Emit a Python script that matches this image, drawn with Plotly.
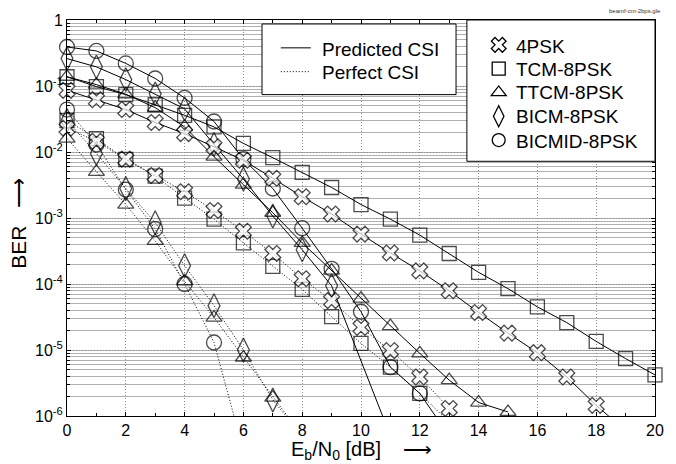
import plotly.graph_objects as go

# ---------------- data ----------------
# Predicted CSI (solid lines)
pred_4psk_x = list(range(0, 20))
pred_4psk_y = [0.086, 0.062, 0.044, 0.028, 0.019, 0.012, 0.0075, 0.0040, 0.0021, 0.00115,
               5.7e-4, 2.95e-4, 1.58e-4, 7.9e-5, 3.7e-5, 1.8e-5, 9.1e-6, 3.9e-6, 1.45e-6, 6e-7]
pred_tcm_x = list(range(0, 21))
pred_tcm_y = [0.138, 0.098, 0.074, 0.052, 0.036, 0.024, 0.0135, 0.0082, 0.0049, 0.0029, 0.0016,
              9.6e-4, 5.5e-4, 2.9e-4, 1.5e-4, 8.5e-5, 4.5e-5, 2.6e-5, 1.35e-5, 7.4e-6, 4.2e-6]
pred_ttcm_x = list(range(0, 16))
pred_ttcm_y = [0.138, 0.105, 0.075, 0.047, 0.024, 0.0085, 0.0032, 0.0012, 4.2e-4, 1.6e-4,
               6e-5, 2.3e-5, 8.9e-6, 3.5e-6, 1.6e-6, 1.15e-6]
pred_bicm_x = [0, 1, 2, 3, 4, 5, 6, 7, 8, 9, 11]
pred_bicm_y = [0.26, 0.195, 0.125, 0.076, 0.045, 0.013, 0.0039, 0.00107, 3.3e-4, 9.4e-5, 5e-7]
pred_bicmid_x = list(range(0, 14))
pred_bicmid_y = [0.39, 0.34, 0.22, 0.13, 0.066, 0.029, 0.0078, 0.0028, 7e-4, 1.7e-4,
                 3.8e-5, 5.5e-6, 2.2e-6, 5e-7]

# Perfect CSI (dotted lines)
perf_4psk_x = list(range(0, 15))
perf_4psk_y = [0.023, 0.0145, 0.0078, 0.0044, 0.0025, 0.0013, 6.3e-4, 2.9e-4, 1.2e-4, 5.6e-5,
               2.2e-5, 9.8e-6, 3.9e-6, 1.3e-6, 3.5e-7]
perf_tcm_x = list(range(0, 14))
perf_tcm_y = [0.030, 0.016, 0.0077, 0.0043, 0.0020, 9.6e-4, 4.2e-4, 1.85e-4, 8.3e-5, 3.2e-5,
              1.26e-5, 5.5e-6, 2.2e-6, 8e-7]
perf_ttcm_x = list(range(0, 9))
perf_ttcm_y = [0.016, 0.0050, 0.0016, 4.5e-4, 1.1e-4, 3.1e-5, 7.7e-6, 1.9e-6, 5e-7]
perf_bicm_x = list(range(0, 9))
perf_bicm_y = [0.030, 0.0095, 0.0028, 8.5e-4, 1.9e-4, 4.7e-5, 1.0e-5, 1.75e-6, 5e-7]
perf_bicmid_x = list(range(0, 7))
perf_bicmid_y = [0.044, 0.013, 0.0027, 6.8e-4, 1.0e-4, 1.3e-5, 3e-7]

scheme_names = ["4PSK", "TCM-8PSK", "TTCM-8PSK", "BICM-8PSK", "BICMID-8PSK"]
csi_names = ["Predicted CSI", "Perfect CSI"]

x_tickvals = list(range(0, 21, 2))
y_tickvals = [1e-6, 1e-5, 1e-4, 1e-3, 1e-2, 1e-1, 1]
y_ticktext = ["10<sup>-6</sup>", "10<sup>-5</sup>", "10<sup>-4</sup>", "10<sup>-3</sup>",
              "10<sup>-2</sup>", "10<sup>-1</sup>", "1"]

# ---------------- styling ----------------
FONT = "Liberation Sans, Arial, Helvetica, sans-serif"
W, H = 676, 464
L, R, T, B = 67, 12, 18, 48
PW, PH = W - L - R, H - T - B
YMIN = 1e-6
DOT = "1px,2px"

def px_x(p):
    return (p - L) / PW

def px_y(p):
    return (H - B - p) / PH

sym = {
    "4PSK": dict(symbol="x", size=14, color="white", line=dict(color="black", width=1.3)),
    "TCM-8PSK": dict(symbol="square-open", size=14, color="black", line=dict(width=1.3)),
    "TTCM-8PSK": dict(symbol="triangle-up-open", size=14, color="black", line=dict(width=1.3)),
    "BICM-8PSK": dict(symbol="diamond-tall-open", size=17, color="black", line=dict(width=1.3)),
    "BICMID-8PSK": dict(symbol="circle-open", size=15, color="black", line=dict(width=1.3)),
}

fig = go.Figure()

def add_curve(xs, ys, name, dash):
    m = dict(sym[name])
    m["size"] = [m["size"] if v >= YMIN else 0 for v in ys]
    fig.add_trace(go.Scatter(
        x=xs, y=ys, mode="lines+markers", showlegend=False, cliponaxis=False,
        line=dict(color="black", width=1, dash=dash), marker=m,
        hoverinfo="skip"))

series = [
    (pred_tcm_x, pred_tcm_y, "TCM-8PSK", "solid"),
    (pred_ttcm_x, pred_ttcm_y, "TTCM-8PSK", "solid"),
    (pred_bicm_x, pred_bicm_y, "BICM-8PSK", "solid"),
    (pred_bicmid_x, pred_bicmid_y, "BICMID-8PSK", "solid"),
    (perf_tcm_x, perf_tcm_y, "TCM-8PSK", DOT),
    (perf_ttcm_x, perf_ttcm_y, "TTCM-8PSK", DOT),
    (perf_bicm_x, perf_bicm_y, "BICM-8PSK", DOT),
    (perf_bicmid_x, perf_bicmid_y, "BICMID-8PSK", DOT),
    (perf_4psk_x, perf_4psk_y, "4PSK", DOT),
    (pred_4psk_x, pred_4psk_y, "4PSK", "solid"),
]
for xs, ys, nm, d in series:
    add_curve(xs, ys, nm, d)

# legend symbols (line styles) -- labels are drawn as annotations
for nm, d in zip(csi_names, ["solid", DOT]):
    fig.add_trace(go.Scatter(x=[None], y=[None], mode="lines", legend="legend",
                             name=" ", line=dict(color="black", width=1, dash=d)))
# legend symbols (markers)
for nm in scheme_names:
    m = dict(sym[nm])
    m["size"] = 13 if nm != "BICM-8PSK" else 15
    fig.add_trace(go.Scatter(x=[None], y=[None], mode="markers", legend="legend2",
                             name=" ", marker=m))

shapes = [
    dict(type="rect", xref="paper", yref="paper", x0=px_x(265), x1=px_x(462),
         y0=px_y(93), y1=px_y(22), line=dict(color="black", width=1),
         fillcolor="white", layer="above"),
    dict(type="rect", xref="paper", yref="paper", x0=px_x(473), x1=px_x(664),
         y0=px_y(160), y1=px_y(18), line=dict(color="black", width=1),
         fillcolor="white", layer="above"),
]

annotations = [
    dict(text="BER\u00a0\u00a0\u00a0\u27f6", xref="paper", yref="paper", x=px_x(18), y=px_y(222),
         textangle=-90, showarrow=False, font=dict(size=21, color="black", family=FONT),
         xanchor="center", yanchor="middle"),
    dict(text="E<sub>b</sub>/N<sub>0</sub> [dB]\u00a0\u00a0\u00a0\u00a0\u27f6",
         xref="paper", yref="paper", x=px_x(366), y=px_y(451), showarrow=False,
         font=dict(size=20, color="black", family=FONT), xanchor="center", yanchor="middle",
         borderpad=0),
    dict(text="beamf-cm-2bps.gle", xref="paper", yref="paper", x=px_x(672), y=px_y(9),
         showarrow=False, font=dict(size=6, color="#333333", family=FONT),
         xanchor="right", yanchor="middle"),
]
for nm, yy in zip(csi_names, [48, 71]):
    annotations.append(dict(text=nm, xref="paper", yref="paper", x=px_x(324), y=px_y(yy),
                            showarrow=False, xanchor="left", yanchor="middle",
                            font=dict(size=19, color="black", family=FONT)))
for nm, yy in zip(scheme_names, [45, 68, 91, 115, 140]):
    annotations.append(dict(text=nm, xref="paper", yref="paper", x=px_x(521), y=px_y(yy),
                            showarrow=False, xanchor="left", yanchor="middle",
                            font=dict(size=19, color="black", family=FONT)))

fig.update_layout(
    width=W, height=H, margin=dict(l=L, r=R, t=T, b=B, pad=0),
    paper_bgcolor="white", plot_bgcolor="white",
    font=dict(family=FONT, size=16, color="black"),
    showlegend=True,
    legend=dict(x=px_x(279), y=px_y(29), xanchor="left", yanchor="top",
                bgcolor="rgba(0,0,0,0)", borderwidth=0, font=dict(size=16),
                itemsizing="trace"),
    legend2=dict(x=px_x(485), y=px_y(26), xanchor="left", yanchor="top",
                 bgcolor="rgba(0,0,0,0)", borderwidth=0, font=dict(size=16),
                 itemsizing="trace"),
    shapes=shapes, annotations=annotations,
    xaxis=dict(range=[0, 20], tickmode="array", tickvals=x_tickvals,
               showgrid=True, gridcolor="#8c8c8c", griddash=DOT, gridwidth=1,
               showline=True, linecolor="black", linewidth=1, mirror="allticks",
               ticks="inside", ticklen=4, tickcolor="black",
               minor=dict(dtick=1, ticks="inside", ticklen=3, tickcolor="black", showgrid=False),
               zeroline=False, tickfont=dict(size=16)),
    yaxis=dict(type="log", range=[-6, 0], tickmode="array", tickvals=y_tickvals,
               ticktext=y_ticktext,
               showgrid=True, gridcolor="#8c8c8c", griddash=DOT, gridwidth=1,
               showline=True, linecolor="black", linewidth=1, mirror="allticks",
               ticks="inside", ticklen=4, tickcolor="black",
               minor=dict(dtick="D1", showgrid=True, gridcolor="#b0b0b0", gridwidth=1,
                          griddash="solid", ticks="inside", ticklen=3, tickcolor="black"),
               zeroline=False, tickfont=dict(size=16)),
)

fig.write_html("out.html")
